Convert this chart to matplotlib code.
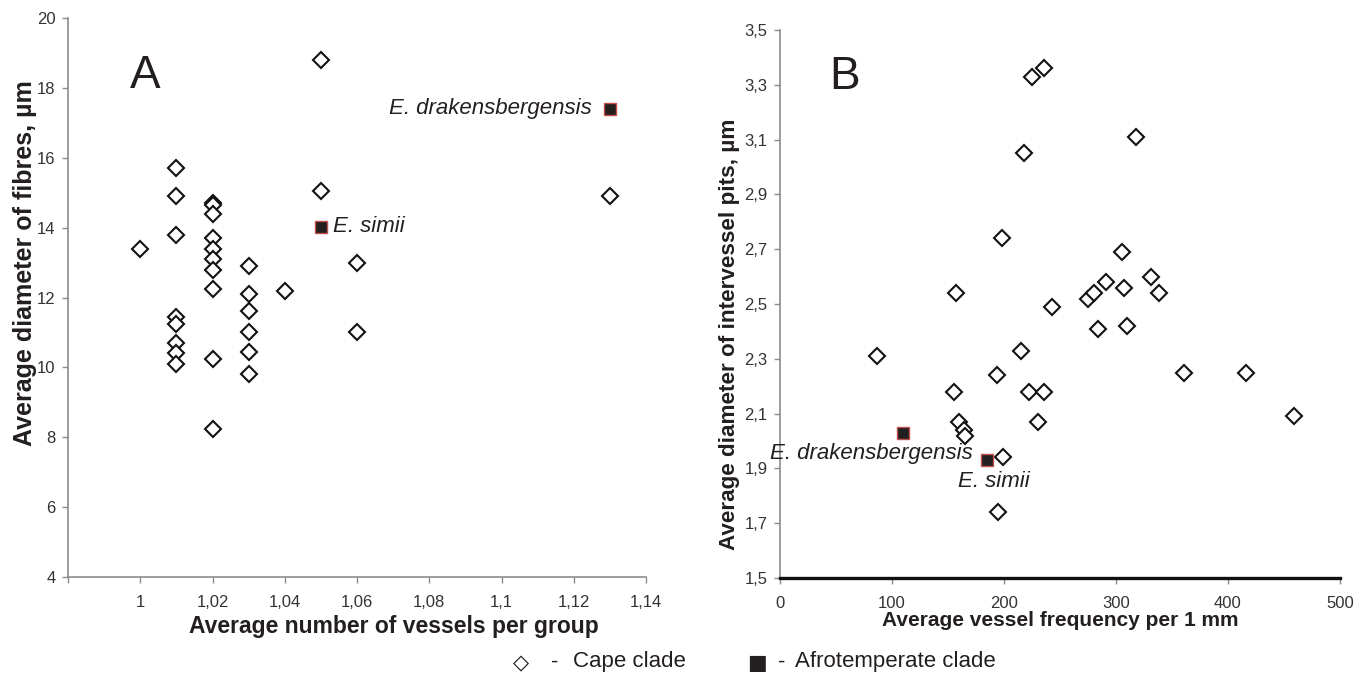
import matplotlib
matplotlib.use("Agg")
import matplotlib.pyplot as plt

# ---------- panel A data ----------
a_cape_x = [1.00,
            1.01, 1.01, 1.01, 1.01, 1.01, 1.01, 1.01, 1.01,
            1.02, 1.02, 1.02, 1.02, 1.02, 1.02, 1.02, 1.02, 1.02, 1.02,
            1.03, 1.03, 1.03, 1.03, 1.03, 1.03,
            1.04, 1.05, 1.05, 1.06, 1.06, 1.13]
a_cape_y = [13.4,
            15.7, 14.9, 13.8, 11.45, 11.25, 10.7, 10.4, 10.1,
            14.7, 14.65, 14.4, 13.7, 13.4, 13.1, 12.8, 12.25, 10.25, 8.25,
            12.9, 12.1, 11.6, 11.0, 10.45, 9.8,
            12.2, 18.8, 15.05, 13.0, 11.0, 14.9]
a_afro_names = ["E. drakensbergensis", "E. simii"]
a_afro_x = [1.13, 1.05]
a_afro_y = [17.4, 14.03]
a_xticks = [0.98, 1.00, 1.02, 1.04, 1.06, 1.08, 1.10, 1.12, 1.14]
a_xticklabels = ["", "1", "1,02", "1,04", "1,06", "1,08", "1,1", "1,12", "1,14"]
a_yticks = [4, 6, 8, 10, 12, 14, 16, 18, 20]
a_yticklabels = ["4", "6", "8", "10", "12", "14", "16", "18", "20"]

# ---------- panel B data ----------
b_cape_x = [87, 157, 155, 160, 164, 165, 194, 198, 199, 195, 215, 218, 222,
            225, 230, 236, 236, 243, 275, 280, 284, 291, 305, 307, 310, 318,
            331, 338, 361, 416, 459]
b_cape_y = [2.31, 2.54, 2.18, 2.07, 2.04, 2.02, 2.24, 2.74, 1.94, 1.74, 2.33,
            3.05, 2.18, 3.33, 2.07, 3.36, 2.18, 2.49, 2.52, 2.54, 2.41, 2.58,
            2.69, 2.56, 2.42, 3.11, 2.60, 2.54, 2.25, 2.25, 2.09]
b_afro_names = ["E. drakensbergensis", "E. simii"]
b_afro_x = [110, 185]
b_afro_y = [2.03, 1.93]
b_xticks = [0, 100, 200, 300, 400, 500]
b_xticklabels = ["0", "100", "200", "300", "400", "500"]
b_yticks = [1.5, 1.7, 1.9, 2.1, 2.3, 2.5, 2.7, 2.9, 3.1, 3.3, 3.5]
b_yticklabels = ["1,5", "1,7", "1,9", "2,1", "2,3", "2,5", "2,7", "2,9",
                 "3,1", "3,3", "3,5"]

plt.rcParams["font.family"] = ["Liberation Sans", "DejaVu Sans"]
TXT = "#231f20"
GRAY = "#8c8c8c"
SQ_EDGE = "#c0504d"
W, H = 1370, 677

fig = plt.figure(figsize=(13.7, 6.77), dpi=100)
axA = fig.add_axes([68 / W, 100 / H, 578 / W, 559 / H])
axB = fig.add_axes([780 / W, 99 / H, 560 / W, 548 / H])


def px(x, y):
    # pixel position (from top-left) -> figure fraction
    return x / W, 1 - y / H


def style_axes(ax, bottom_color, bottom_lw):
    for side in ("top", "right"):
        ax.spines[side].set_visible(False)
    ax.spines["left"].set_color(GRAY)
    ax.spines["left"].set_linewidth(1.2)
    ax.spines["bottom"].set_color(bottom_color)
    ax.spines["bottom"].set_linewidth(bottom_lw)
    ax.tick_params(direction="out", length=4, width=1.0, color=GRAY,
                   labelcolor="#333333", labelsize=12)
    ax.tick_params(axis="x", pad=9)
    ax.tick_params(axis="y", pad=5)
    ax.set_facecolor("none")


def cape(ax, x, y):
    ax.plot(x, y, ls="none", marker="D", markersize=8.2, markerfacecolor="white",
            markeredgecolor="#111111", markeredgewidth=1.5, zorder=3)


def afro(ax, x, y):
    ax.plot(x, y, ls="none", marker="s", markersize=9, markerfacecolor="#231f20",
            markeredgecolor=SQ_EDGE, markeredgewidth=1.0, zorder=4)


# ---- A ----
style_axes(axA, GRAY, 1.2)
cape(axA, a_cape_x, a_cape_y)
afro(axA, a_afro_x, a_afro_y)
axA.set_xlim(0.98, 1.14)
axA.set_ylim(4, 20)
axA.set_xticks(a_xticks)
axA.set_xticklabels(a_xticklabels)
axA.set_yticks(a_yticks)
axA.set_yticklabels(a_yticklabels)
axA.text(0.133, 0.897, "A", transform=axA.transAxes, fontsize=33, color=TXT,
         ha="center", va="center")
axA.annotate(a_afro_names[0], (a_afro_x[0], a_afro_y[0]), xytext=(-13, 0),
             textcoords="offset points", ha="right", va="center",
             fontsize=16, style="italic", color=TXT)
axA.annotate(a_afro_names[1], (a_afro_x[1], a_afro_y[1]), xytext=(8.5, 0),
             textcoords="offset points", ha="left", va="center",
             fontsize=16, style="italic", color=TXT)
fig.text(*px(394, 627), "Average number of vessels per group", fontsize=16.5,
         fontweight="bold", color=TXT, ha="center", va="center")
fig.text(*px(25, 263), "Average diameter of fibres, µm", fontsize=18,
         fontweight="bold", color=TXT, ha="center", va="center", rotation=90)

# ---- B ----
style_axes(axB, "#111111", 2.4)
cape(axB, b_cape_x, b_cape_y)
afro(axB, b_afro_x, b_afro_y)
axB.set_xlim(0, 500)
axB.set_ylim(1.5, 3.5)
axB.set_xticks(b_xticks)
axB.set_xticklabels(b_xticklabels)
axB.set_yticks(b_yticks)
axB.set_yticklabels(b_yticklabels)
axB.text(0.116, 0.915, "B", transform=axB.transAxes, fontsize=33, color=TXT,
         ha="center", va="center")
axB.annotate(b_afro_names[0], (b_afro_x[0], b_afro_y[0]), xytext=(50, -15),
             textcoords="offset points", ha="right", va="center",
             fontsize=16, style="italic", color=TXT)
axB.annotate(b_afro_names[1], (b_afro_x[1], b_afro_y[1]), xytext=(-21, -15.5),
             textcoords="offset points", ha="left", va="center",
             fontsize=16, style="italic", color=TXT)
fig.text(*px(1060, 620), "Average vessel frequency per 1 mm", fontsize=15,
         fontweight="bold", color=TXT, ha="center", va="center")
fig.text(*px(730, 334), "Average diameter of intervessel pits, µm", fontsize=16.2,
         fontweight="bold", color=TXT, ha="center", va="center", rotation=90)

# ---- legend row ----
fig.text(*px(521, 663), "\u25c7", fontsize=15, ha="center", va="center",
         color="#111111", family=["DejaVu Sans"])
fig.text(*px(555, 662), "-", fontsize=16, ha="center", va="center", color=TXT)
fig.text(*px(573, 662), "Cape clade", fontsize=16, ha="left", va="center",
         color=TXT)
fig.text(*px(757, 663), "\u25a0", fontsize=15, ha="center", va="center",
         color=TXT, family=["DejaVu Sans"])
fig.text(*px(782, 662), "-", fontsize=16, ha="center", va="center", color=TXT)
fig.text(*px(795, 662), "Afrotemperate clade", fontsize=16, ha="left",
         va="center", color=TXT)

fig.savefig("out.png", dpi=100)
